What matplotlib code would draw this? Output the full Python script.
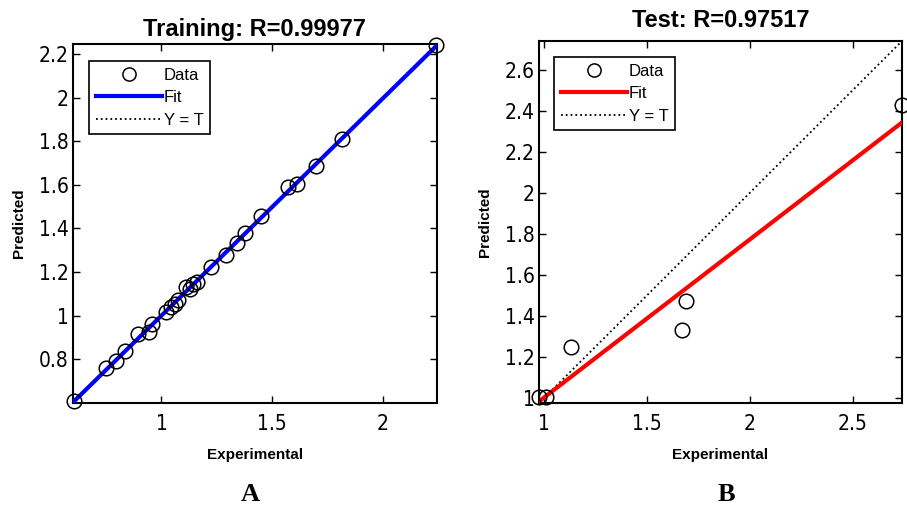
import numpy as np
import matplotlib
matplotlib.use('Agg')
import matplotlib.pyplot as plt
from matplotlib.lines import Line2D

# Training data (experimental vs predicted)
train_exp = [0.603, 0.748, 0.794, 0.835, 0.895, 0.942, 0.956, 1.022, 1.045, 1.06,
             1.075, 1.113, 1.128, 1.143, 1.159, 1.223, 1.291, 1.341, 1.379, 1.448,
             1.574, 1.615, 1.698, 1.816, 2.242]
train_pred = [0.609, 0.759, 0.794, 0.838, 0.914, 0.926, 0.96, 1.017, 1.039, 1.054,
              1.07, 1.13, 1.123, 1.145, 1.153, 1.224, 1.28, 1.335, 1.377, 1.459,
              1.589, 1.603, 1.686, 1.808, 2.241]

# Test data
test_exp = [0.975, 1.01, 1.13, 1.67, 1.69, 2.74]
test_pred = [1.005, 1.005, 1.25, 1.33, 1.47, 2.43]

train_title = 'Training: R=0.99977'
test_title = 'Test: R=0.97517'
train_lim = (0.60, 2.245)
test_lim = (0.975, 2.74)
train_yticks = [0.8, 1, 1.2, 1.4, 1.6, 1.8, 2, 2.2]
train_xticks = [1, 1.5, 2]
test_yticks = [1, 1.2, 1.4, 1.6, 1.8, 2, 2.2, 2.4, 2.6]
test_xticks = [1, 1.5, 2, 2.5]

plt.rcParams['font.family'] = ['Liberation Sans', 'DejaVu Sans']

fig = plt.figure(figsize=(9.07, 5.07), dpi=100)
ax1 = fig.add_axes([0.0805, 0.2051, 0.401, 0.708])
ax2 = fig.add_axes([0.5943, 0.2051, 0.4002, 0.714])


def draw_panel(ax, x, y, lim, xticks, yticks, fit_color, title, title_pad, leg_anchor):
    x = np.array(x)
    y = np.array(y)
    line_x = np.array(lim)
    # Y = T reference
    ax.plot(line_x, line_x, color='black', linestyle=':', linewidth=1.3, zorder=2)
    # least squares fit
    m, b = np.polyfit(x, y, 1)
    ax.plot(line_x, m * line_x + b, color=fit_color, linewidth=3, zorder=3)
    ax.plot(x, y, linestyle='none', marker='o', markersize=10.5, markerfacecolor='none',
            markeredgecolor='black', markeredgewidth=1.1, zorder=4, clip_on=False)
    ax.set_xlim(lim)
    ax.set_ylim(lim)
    ax.set_xticks(xticks)
    ax.set_yticks(yticks)
    ax.set_xticklabels([f'{t:g}' for t in xticks], fontfamily='DejaVu Sans',
                       fontstretch='condensed', fontsize=15)
    ax.set_yticklabels([f'{t:g}' for t in yticks], fontfamily='DejaVu Sans',
                       fontstretch='condensed', fontsize=15)
    ax.tick_params(axis='x', direction='in', top=True, length=5, width=1, pad=8)
    ax.tick_params(axis='y', direction='in', right=True, length=5, width=1, pad=3)
    for s in ax.spines.values():
        s.set_linewidth(1.5)
    ax.set_title(title, fontsize=17, fontweight='bold', pad=title_pad)
    ax.set_xlabel('Experimental', fontsize=11, fontweight='bold')
    ax.set_ylabel('Predicted', fontsize=11, fontweight='bold')
    ax.xaxis.set_label_coords(0.5, -0.125)
    ax.yaxis.set_label_coords(-0.13, 0.5)

    handles = [
        Line2D([], [], linestyle='none', marker='o', markersize=9.5, markerfacecolor='none',
               markeredgecolor='black', markeredgewidth=1.1),
        Line2D([], [], color=fit_color, linewidth=3),
        Line2D([], [], color='black', linestyle=':', linewidth=1.3),
    ]
    leg = ax.legend(handles, ['Data', 'Fit', 'Y = T'], loc='upper left',
                    bbox_to_anchor=leg_anchor, borderaxespad=0, fontsize=12,
                    handlelength=4.0, handletextpad=0.1, labelspacing=0.45,
                    borderpad=0.4, fancybox=False, framealpha=1, edgecolor='black')
    leg.get_frame().set_linewidth(1.2)


draw_panel(ax1, train_exp, train_pred, train_lim, train_xticks, train_yticks,
           '#0000ff', train_title, 6, (0.044, 0.953))
draw_panel(ax2, test_exp, test_pred, test_lim, test_xticks, test_yticks,
           '#ff0000', test_title, 10, (0.041, 0.956))

fig.text(0.2756, 0.024, 'A', ha='center', va='center', fontsize=19, fontweight='bold',
         family='Liberation Serif')
fig.text(0.8005, 0.024, 'B', ha='center', va='center', fontsize=19, fontweight='bold',
         family='Liberation Serif')

fig.savefig('out.png', dpi=100)
